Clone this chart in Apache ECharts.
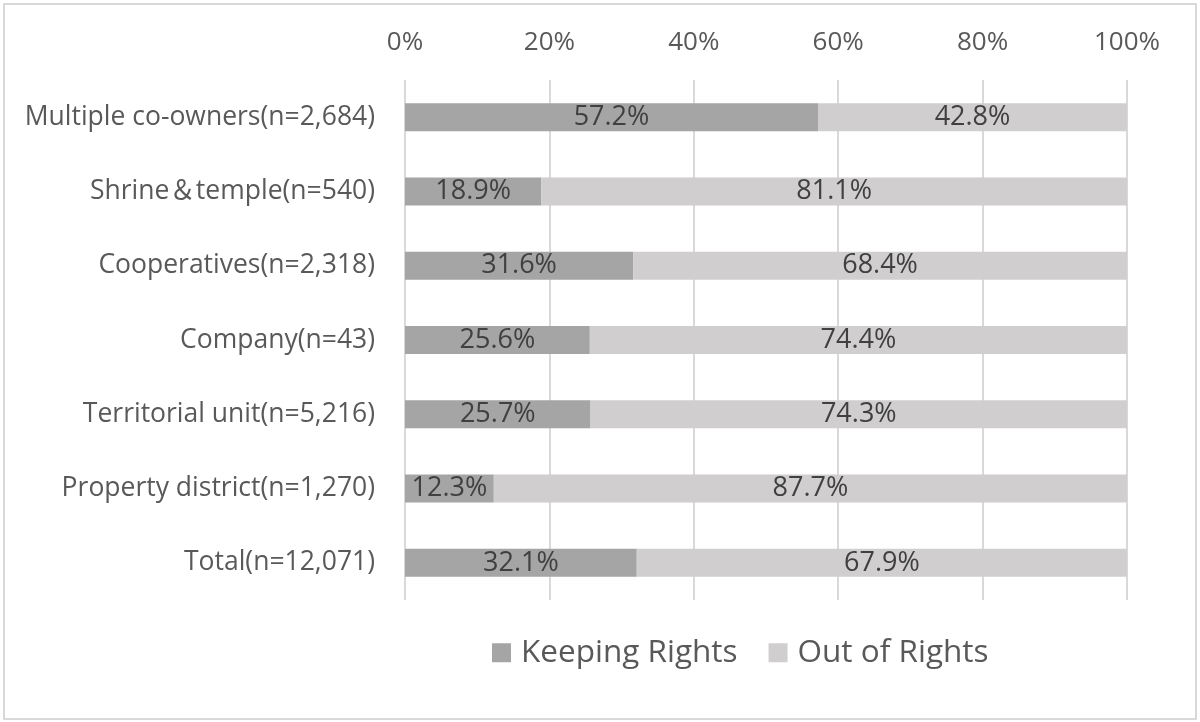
<!DOCTYPE html>
<html>
<head>
<meta charset="utf-8">
<script src="https://cdn.jsdelivr.net/npm/echarts@6/dist/echarts.min.js"></script>
<style>
html,body{margin:0;padding:0;background:#fff;}
#frame{position:absolute;left:3px;top:3px;width:1190px;height:713px;border:2px solid #d9d9d9;box-sizing:content-box;}
#chart{position:absolute;left:0;top:0;width:1200px;height:722px;}
</style>
</head>
<body>
<div id="frame"></div>
<div id="chart"></div>
<script>
const categories = [
  'Multiple co-owners(n=2,684)',
  'Shrine\uFF06temple(n=540)',
  'Cooperatives(n=2,318)',
  'Company(n=43)',
  'Territorial unit(n=5,216)',
  'Property district(n=1,270)',
  'Total(n=12,071)'
];
const keepingRights = [57.2, 18.9, 31.6, 25.6, 25.7, 12.3, 32.1];
const outOfRights = [42.8, 81.1, 68.4, 74.4, 74.3, 87.7, 67.9];
const seriesNames = ['Keeping Rights', 'Out of Rights'];

const font = '"Open Sans", "Noto Sans", "Noto Sans CJK JP", sans-serif';
const chart = echarts.init(document.getElementById('chart'), null, {renderer: 'canvas'});
chart.setOption({
  animation: false,
  backgroundColor: 'transparent',
  grid: {left: 405, right: 73, top: 80, bottom: 122, containLabel: false},
  legend: {
    data: seriesNames,
    top: 632,
    left: 487,
    itemWidth: 19,
    itemHeight: 19,
    itemGap: 31,
    icon: 'rect',
    textStyle: {fontFamily: font, fontSize: 31.5, color: '#595959', padding: [0, 0, 0, 5]}
  },
  xAxis: {
    type: 'value',
    position: 'top',
    min: 0, max: 100, interval: 20,
    axisLine: {show: false},
    axisTick: {show: false},
    splitLine: {lineStyle: {color: '#d9d9d9', width: 2}},
    axisLabel: {formatter: '{value}%', fontFamily: font, fontSize: 26, color: '#595959', margin: 24}
  },
  yAxis: {
    type: 'category',
    inverse: true,
    data: categories,
    axisLine: {show: false},
    axisTick: {show: false},
    axisLabel: {fontFamily: font, fontSize: 26.5, color: '#595959', margin: 30}
  },
  series: [
    {
      name: seriesNames[0], type: 'bar', stack: 'total', barWidth: 28,
      data: keepingRights,
      itemStyle: {color: '#a5a5a5'},
      label: {show: true, position: 'inside', formatter: p => p.value.toFixed(1) + '%', fontFamily: font, fontSize: 27, color: '#404040'}
    },
    {
      name: seriesNames[1], type: 'bar', stack: 'total', barWidth: 28,
      data: outOfRights,
      itemStyle: {color: '#d0cece'},
      label: {show: true, position: 'inside', formatter: p => p.value.toFixed(1) + '%', fontFamily: font, fontSize: 27, color: '#404040'}
    }
  ]
});
</script>
</body>
</html>
